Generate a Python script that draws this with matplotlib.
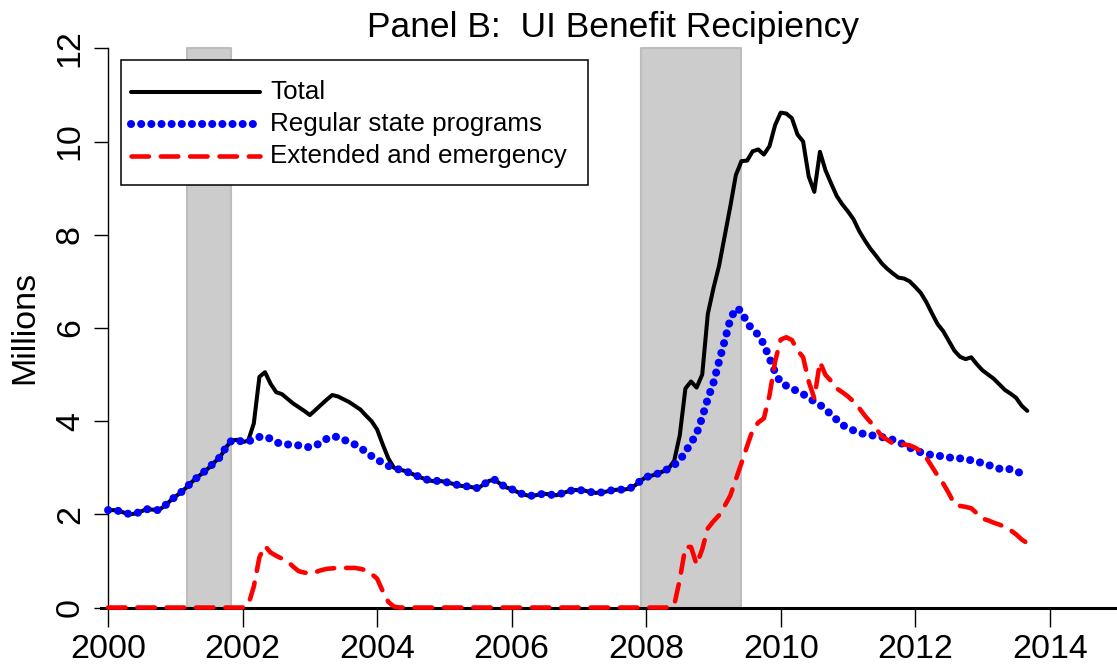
"""
UI benefit recipiency, Panel B (recreation of R base-graphics chart)
"""
import matplotlib
matplotlib.use('Agg')
import matplotlib.pyplot as plt
from matplotlib.lines import Line2D
from matplotlib.patches import Rectangle
import numpy as np

# Monthly data, Jan 2000 - Sep 2013, millions of recipients
total = [
    2.09, 2.09, 2.07, 2.03, 2.00, 2.02, 2.07, 2.11, 2.10, 2.09, 2.17, 2.28,  # 2000
    2.38, 2.47, 2.58, 2.70, 2.80, 2.90, 3.00, 3.12, 3.23, 3.43, 3.58, 3.60,  # 2001
    3.55, 3.58, 3.95, 4.95, 5.05, 4.80, 4.62, 4.58, 4.48, 4.38, 4.30, 4.22,  # 2002
    4.13, 4.24, 4.35, 4.46, 4.56, 4.53, 4.47, 4.41, 4.33, 4.25, 4.12, 4.00,  # 2003
    3.82, 3.50, 3.20, 3.00, 2.96, 2.93, 2.88, 2.83, 2.78, 2.74, 2.71, 2.72,  # 2004
    2.70, 2.67, 2.64, 2.61, 2.60, 2.58, 2.56, 2.64, 2.72, 2.74, 2.65, 2.58,  # 2005
    2.54, 2.48, 2.43, 2.40, 2.40, 2.43, 2.44, 2.42, 2.41, 2.45, 2.49, 2.52,  # 2006
    2.52, 2.51, 2.48, 2.46, 2.47, 2.49, 2.52, 2.53, 2.53, 2.55, 2.62, 2.72,  # 2007
    2.80, 2.83, 2.87, 2.92, 2.98, 3.15, 3.70, 4.70, 4.85, 4.72, 5.00, 6.30,  # 2008
    6.85, 7.33, 7.97, 8.60, 9.28, 9.58, 9.59, 9.79, 9.83, 9.72, 9.90, 10.35,  # 2009
    10.62, 10.60, 10.50, 10.15, 10.00, 9.25, 8.92, 9.78, 9.38, 9.10, 8.83, 8.65,  # 2010
    8.50, 8.33, 8.08, 7.88, 7.70, 7.55, 7.39, 7.27, 7.17, 7.08, 7.06, 7.00,  # 2011
    6.88, 6.75, 6.55, 6.31, 6.08, 5.93, 5.72, 5.51, 5.38, 5.33, 5.37, 5.22,  # 2012
    5.09, 5.00, 4.91, 4.79, 4.67, 4.59, 4.50, 4.33, 4.22,  # 2013
]

regular = [
    2.09, 2.09, 2.07, 2.03, 2.00, 2.02, 2.07, 2.11, 2.10, 2.09, 2.17, 2.28,
    2.38, 2.47, 2.58, 2.70, 2.80, 2.90, 3.00, 3.12, 3.23, 3.43, 3.58, 3.60,
    3.55, 3.57, 3.60, 3.66, 3.67, 3.62, 3.55, 3.50, 3.50, 3.49, 3.48, 3.45,
    3.44, 3.47, 3.55, 3.62, 3.67, 3.66, 3.60, 3.56, 3.50, 3.43, 3.34, 3.25,
    3.17, 3.11, 3.04, 2.99, 2.96, 2.93, 2.88, 2.83, 2.78, 2.74, 2.71, 2.72,
    2.70, 2.67, 2.64, 2.61, 2.60, 2.58, 2.56, 2.64, 2.72, 2.74, 2.65, 2.58,
    2.54, 2.48, 2.43, 2.40, 2.40, 2.43, 2.44, 2.42, 2.41, 2.45, 2.49, 2.52,
    2.52, 2.51, 2.48, 2.46, 2.47, 2.49, 2.52, 2.53, 2.53, 2.55, 2.62, 2.72,
    2.80, 2.83, 2.87, 2.92, 2.98, 3.06, 3.16, 3.34, 3.53, 3.73, 4.08, 4.48,
    4.82, 5.28, 5.72, 6.18, 6.42, 6.37, 6.10, 5.97, 5.85, 5.65, 5.35, 5.05,
    4.82, 4.76, 4.70, 4.64, 4.58, 4.50, 4.42, 4.35, 4.25, 4.14, 4.03, 3.92,
    3.85, 3.80, 3.75, 3.72, 3.70, 3.68, 3.66, 3.63, 3.60, 3.56, 3.49, 3.43,
    3.38, 3.33, 3.30, 3.27, 3.26, 3.24, 3.22, 3.21, 3.20, 3.18, 3.16, 3.13,
    3.10, 3.06, 3.02, 2.98, 2.97, 2.97, 2.93, 2.87, 2.83,
]

extended = [
    0, 0, 0, 0, 0, 0, 0, 0, 0, 0, 0, 0,
    0, 0, 0, 0, 0, 0, 0, 0, 0, 0, 0, 0,
    0, 0.05, 0.45, 1.08, 1.32, 1.18, 1.11, 1.05, 0.99, 0.88, 0.78, 0.75,
    0.73, 0.76, 0.80, 0.83, 0.84, 0.85, 0.85, 0.85, 0.85, 0.83, 0.80, 0.72,
    0.62, 0.35, 0.12, 0.02, 0, 0, 0, 0, 0, 0, 0, 0,
    0, 0, 0, 0, 0, 0, 0, 0, 0, 0, 0, 0,
    0, 0, 0, 0, 0, 0, 0, 0, 0, 0, 0, 0,
    0, 0, 0, 0, 0, 0, 0, 0, 0, 0, 0, 0,
    0, 0, 0, 0, 0, 0.05, 0.60, 1.30, 1.30, 0.92, 1.25, 1.70,
    1.85, 1.98, 2.18, 2.40, 2.75, 3.10, 3.46, 3.81, 3.97, 4.06, 4.55, 5.28,
    5.75, 5.80, 5.74, 5.52, 5.37, 4.85, 4.49, 5.27, 4.99, 4.86, 4.70, 4.62,
    4.53, 4.42, 4.28, 4.12, 3.98, 3.84, 3.68, 3.60, 3.52, 3.50, 3.50, 3.48,
    3.43, 3.35, 3.21, 3.02, 2.83, 2.66, 2.45, 2.22, 2.18, 2.16, 2.13, 2.02,
    1.91, 1.87, 1.82, 1.78, 1.73, 1.66, 1.57, 1.46, 1.38,
]

# NBER recessions (Mar-Nov 2001, Dec 2007-Jun 2009)
rec_start = [2001 + 2/12, 2007 + 11/12]
rec_end = [2001 + 10/12, 2009 + 5/12]

x_ticks = [2000, 2002, 2004, 2006, 2008, 2010, 2012, 2014]
y_ticks = [0, 2, 4, 6, 8, 10, 12]
labels = ['Total', 'Regular state programs', 'Extended and emergency']

months = 2000 + np.arange(len(total)) / 12.0

W, H = 1117, 671
FONT = 'Liberation Sans'
plt.rcParams['font.family'] = FONT


def fx(px):
    return px / W


def fy(py):
    return 1 - py / H


fig = plt.figure(figsize=(W / 100, H / 100), dpi=100)
ax = fig.add_axes([fx(100), fy(621.5), (1117 - 100) / W, (621.5 - 39.0) / H])
ax.set_xlim(1999.88, 2015.0)
ax.set_ylim(-0.3, 12.2)

# recession shading
for s, e in zip(rec_start, rec_end):
    ax.fill_betweenx([0, 12], s, e, facecolor='#cccccc', edgecolor='#bdbdbd',
                     linewidth=1.5, zorder=1)

ax.axhline(0, color='black', linewidth=2.2, zorder=2)

styles = [
    dict(color='black', linewidth=2.9, linestyle='-', solid_capstyle='round',
         solid_joinstyle='round'),
    dict(color='#0000ff', linewidth=5.8, linestyle=(0, (0.01, 1.25)),
         dash_capstyle='round'),
    dict(color='#ff0000', linewidth=3.3, linestyle=(0, (3.8, 2.6)),
         dash_capstyle='round', dash_joinstyle='round'),
]
for series, st in zip([total, regular, extended], styles):
    ax.plot(months, series, zorder=3, **st)

# axes in R style
for side in ['top', 'right']:
    ax.spines[side].set_visible(False)
ax.spines['left'].set_position(('data', 2000))
ax.spines['left'].set_bounds(0, 12)
ax.spines['left'].set_linewidth(1.0)
ax.spines['bottom'].set_position(('data', 0))
ax.spines['bottom'].set_bounds(2000, 2014)
ax.spines['bottom'].set_linewidth(1.0)

ax.set_xticks(x_ticks)
ax.set_xticklabels([str(t) for t in x_ticks])
ax.set_yticks(y_ticks)
ax.set_yticklabels([str(t) for t in y_ticks])
ax.tick_params(axis='x', direction='out', length=14, width=1.0, pad=5,
               labelsize=24.5)
ax.tick_params(axis='y', direction='out', length=10, width=1.0, pad=6,
               labelsize=24.5, labelrotation=90)
for lbl in ax.get_yticklabels():
    lbl.set_va('center')

fig.text(fx(613), fy(37), 'Panel B:  UI Benefit Recipiency', ha='center',
         va='baseline', fontsize=25.5)
fig.text(fx(25), fy(327), 'Millions', rotation=90, ha='center', va='center',
         fontsize=24.5)

# legend box drawn by hand to match R's legend()
fig.add_artist(Rectangle((fx(121), fy(185)), fx(588) - fx(121), fy(60) - fy(185),
                         transform=fig.transFigure, facecolor='white',
                         edgecolor='black', linewidth=1.1, zorder=5))
for i, (lab, st) in enumerate(zip(labels, styles)):
    yy = fy(92 + 32 * i)
    fig.add_artist(Line2D([fx(131), fx(260)], [yy, yy], transform=fig.transFigure,
                          zorder=6, **st))
    fig.text(fx(270), yy, lab, ha='left', va='center', fontsize=18.7, zorder=6)

fig.savefig('out.png', dpi=100)
